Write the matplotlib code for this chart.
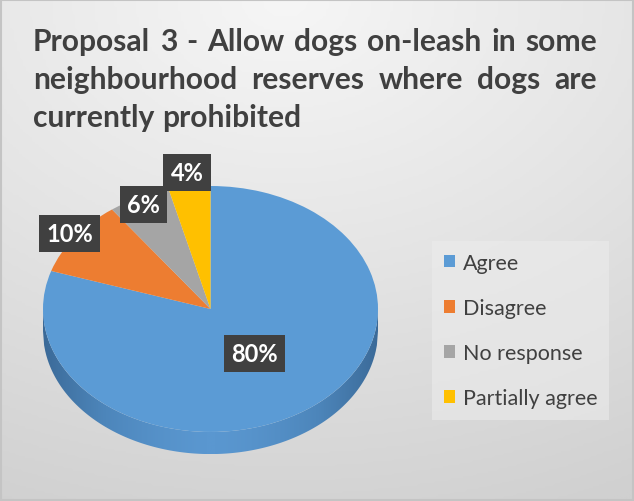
import numpy as np
import matplotlib.pyplot as plt
from matplotlib.patches import Rectangle, Polygon
from matplotlib.colors import LinearSegmentedColormap

plt.rcParams['font.family'] = ['Lato', 'DejaVu Sans']

categories = ['Agree', 'Disagree', 'No response', 'Partially agree']
values = [80, 10, 6, 4]
colors = ['#5b9bd5', '#ed7d31', '#a5a5a5', '#ffc000']
label_dist = [0.45, 1.04, 0.94, 1.12]

title_lines = ['Proposal 3 - Allow dogs on-leash in some',
               'neighbourhood reserves where dogs are',
               'currently prohibited']

W, H = 634, 502
fig = plt.figure(figsize=(W / 100, H / 100), dpi=100)

# background gradient
bg = fig.add_axes([0, 0, 1, 1])
yy, xx = np.mgrid[0:1:200j, 0:1:200j]
rr = np.sqrt(((xx - 0.45) / 1.1) ** 2 + (yy / 1.0) ** 2)
bg_cmap = LinearSegmentedColormap.from_list('bg', ['#f6f6f6', '#e4e4e4', '#d0d0d0'])
bg.imshow(rr, cmap=bg_cmap, extent=[0, 1, 0, 1], origin='upper', aspect='auto',
          vmin=0, vmax=1.1)
bg.set_xlim(0, 1)
bg.set_ylim(0, 1)
bg.axis('off')
bg.add_patch(Rectangle((0.002, 0.002), 0.996, 0.996, fill=False, ec='#c4c4c4', lw=1.5))

# pie axes: top ellipse spans x 43..378, y 187..433 px, side depth below
ax = fig.add_axes([43 / W, (H - 460) / H, 335 / W, (460 - 187) / H])
depth = 0.18

xs = np.linspace(-1, 1, 300)
yb = -np.sqrt(1 - xs ** 2)
side = Polygon(np.vstack([np.column_stack([xs, yb]),
                          np.column_stack([xs[::-1], yb[::-1] - depth])]),
               closed=True, fc='none', ec='none')
ax.add_patch(side)
grad = np.abs(np.linspace(-1, 1, 300))[None, :] ** 1.5
side_cmap = LinearSegmentedColormap.from_list('side', ['#5a97d0', '#4d86bb', '#3b6a98'])
im = ax.imshow(grad, cmap=side_cmap, extent=[-1, 1, -1 - depth, 0], aspect='auto', zorder=0)
im.set_clip_path(side)

wedges, _ = ax.pie(values, colors=colors, startangle=90, counterclock=False, radius=1,
                   wedgeprops=dict(linewidth=0))
ax.set_aspect('auto')
ax.set_xlim(-1, 1)
ax.set_ylim(-1 - 0.22, 1)
ax.axis('off')

for w, v, d in zip(wedges, values, label_dist):
    t = np.deg2rad((w.theta1 + w.theta2) / 2)
    ax.text(d * np.cos(t), d * np.sin(t), '%d%%' % v, ha='center', va='center',
            color='white', fontsize=17, fontweight='bold', zorder=5,
            bbox=dict(boxstyle='square,pad=0.3', fc='#404040', ec='none'))

# justified title
renderer = fig.canvas.get_renderer()
x_left, x_right = 33, 597
line_y = [42, 80, 118]
fs = 21.6
for i, (line, yc) in enumerate(zip(title_lines, line_y)):
    words = line.split(' ')
    texts = [fig.text(0, 1 - yc / H, wd, fontsize=fs, fontweight='bold', color='#404040',
                      va='center', ha='left') for wd in words]
    widths = [t.get_window_extent(renderer).width for t in texts]
    if i < len(title_lines) - 1:
        gap = (x_right - x_left - sum(widths)) / (len(words) - 1)
    else:
        gap = fig.text(0, 0, ' ', fontsize=fs, fontweight='bold').get_window_extent(renderer).width
    x = x_left
    for t, wd in zip(texts, widths):
        t.set_x(x / W)
        x += wd + gap

leg = fig.legend(wedges, categories, loc='upper left', bbox_to_anchor=(421 / W, 1 - 231 / H),
                 fontsize=15.5, handlelength=0.55, handleheight=0.55, labelspacing=1.17,
                 handletextpad=0.35, borderpad=0.55, frameon=True, fancybox=False,
                 labelcolor='#404040')
leg.get_frame().set_facecolor('#ececec')
leg.get_frame().set_alpha(0.6)
leg.get_frame().set_edgecolor('none')

fig.savefig('out.png', dpi=100)
